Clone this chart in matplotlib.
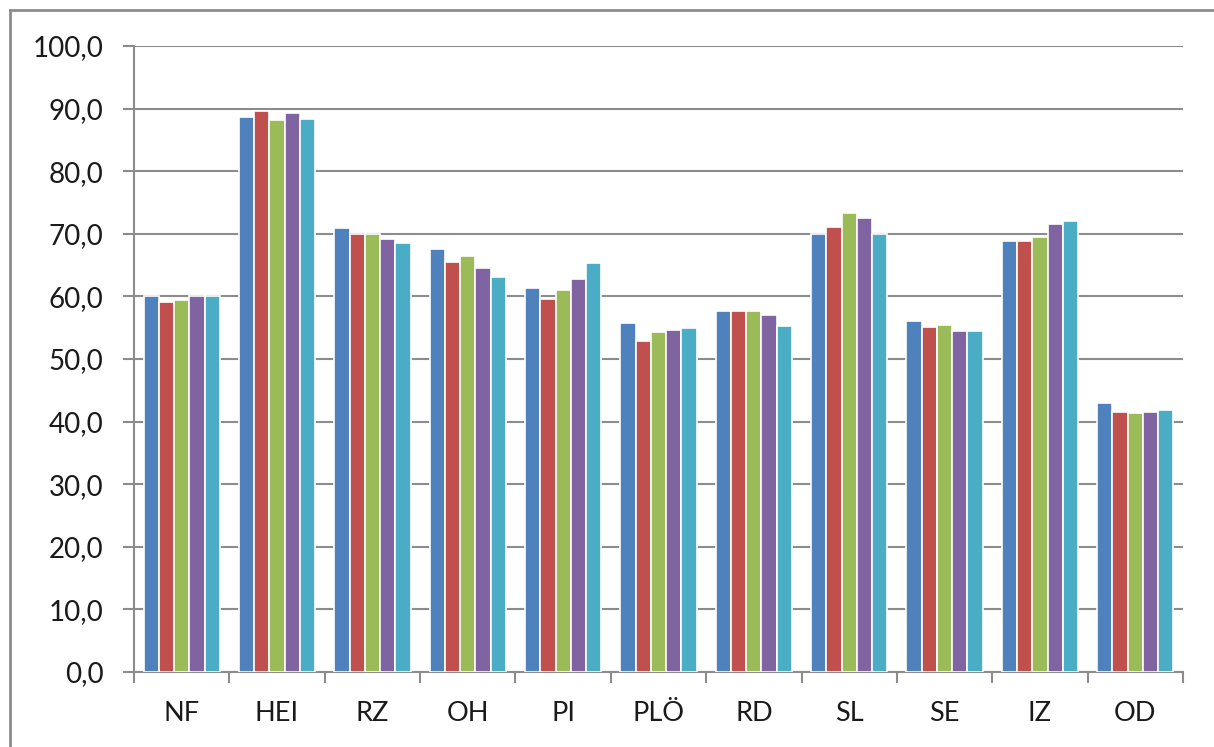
import matplotlib.pyplot as plt
from matplotlib.lines import Line2D
from matplotlib.ticker import FuncFormatter
import numpy as np

categories = ["NF", "HEI", "RZ", "OH", "PI", "PLÖ", "RD", "SL", "SE", "IZ", "OD"]
series_1 = [60.1, 88.6, 70.9, 67.6, 61.3, 55.8, 57.6, 70.0, 56.0, 68.8, 43.0]
series_2 = [59.1, 89.6, 70.0, 65.5, 59.6, 52.8, 57.6, 71.1, 55.1, 68.8, 41.6]
series_3 = [59.5, 88.1, 70.0, 66.4, 61.1, 54.3, 57.6, 73.3, 55.5, 69.5, 41.3]
series_4 = [60.0, 89.3, 69.1, 64.5, 62.8, 54.6, 57.1, 72.6, 54.5, 71.5, 41.6]
series_5 = [60.0, 88.3, 68.6, 63.1, 65.3, 54.9, 55.3, 70.0, 54.5, 72.0, 41.9]
series = [series_1, series_2, series_3, series_4, series_5]
colors = ["#4F81BD", "#C0504D", "#9BBB59", "#8064A2", "#4BACC6"]
yticks = np.arange(0, 101, 10)

W, H = 1214, 747
fig = plt.figure(figsize=(W / 100, H / 100), dpi=100)
ax = fig.add_axes([134 / W, 1 - 672 / H, (1183 - 134) / W, (672 - 46) / H])

x = np.arange(len(categories))
step = 0.16
for i, vals in enumerate(series):
    ax.bar(x + (i - 2) * step, vals, width=step, color=colors[i],
           edgecolor="white", linewidth=1.2, zorder=3)

ax.set_xlim(-0.5, len(categories) - 0.5)
ax.set_ylim(0, 100)
ax.set_yticks(yticks)
ax.yaxis.set_major_formatter(FuncFormatter(lambda v, p: f"{v:.1f}".replace(".", ",")))
ax.yaxis.grid(True, color="#8c8c8c", linewidth=1.5, zorder=0)

ax.set_xticks(x)
ax.set_xticklabels(categories)
ax.set_xticks(np.arange(-0.5, len(categories)), minor=True)
ax.tick_params(axis="x", which="major", length=0, pad=21, labelsize=19.5, labelcolor="#1a1a1a")
ax.tick_params(axis="x", which="minor", length=8, width=1.5, color="#8c8c8c", direction="out")
ax.tick_params(axis="y", length=8, width=1.5, color="#8c8c8c", pad=14,
               labelsize=20, labelcolor="#1a1a1a")

for s in ["top", "right"]:
    ax.spines[s].set_visible(False)
for s in ["left", "bottom"]:
    ax.spines[s].set_color("#8c8c8c")
    ax.spines[s].set_linewidth(1.5)

for t in ax.get_xticklabels() + ax.get_yticklabels():
    t.set_family("Lato")

# outer chart border (top and left visible)
fig.add_artist(Line2D([9.5 / W, 1], [1 - 9.5 / H, 1 - 9.5 / H], color="#8c8c8c", linewidth=2))
fig.add_artist(Line2D([9.5 / W, 9.5 / W], [0, 1 - 9.5 / H], color="#8c8c8c", linewidth=2))

fig.savefig("out.png", dpi=100)
